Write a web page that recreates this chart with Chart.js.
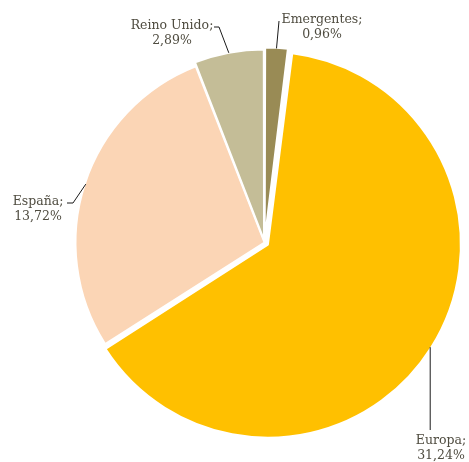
<!DOCTYPE html>
<html>
<head>
<meta charset="utf-8">
<script src="https://cdn.jsdelivr.net/npm/chart.js@4/dist/chart.umd.min.js"></script>
<style>
html,body{margin:0;padding:0;background:#fff;}
#wrap{width:469px;height:462px;position:relative;}
</style>
</head>
<body>
<div id="wrap"><canvas id="c" width="469" height="462"></canvas></div>
<script>
// Data
const categories = ['Emergentes', 'Europa', 'España', 'Reino Unido'];
const values = [0.96, 31.24, 13.72, 2.89];
const valueLabels = ['0,96%', '31,24%', '13,72%', '2,89%'];

// Styles
const colors = ['#998B55', '#FFC000', '#FBD5B5', '#C4BD97'];
const explode = [13, 16, 0, 10];
// Chart.js v4 arcs: translate by offset/4 and grow radius by offset/4
const EDGE_FACTOR = 0.5;
// label layout: text centre x, first baseline y, leader path
const labelLayout = [
  {cx: 322, by: 23, leader: [[279, 21]]},
  {cx: 441, by: 444, leader: [['edgeX', 430]]},
  {cx: 38, by: 205, leader: [[73, 203], [67, 203]]},
  {cx: 172, by: 29, leader: [[219, 27], [214, 27]]}
];

const labelPlugin = {
  id: 'pieLabels',
  afterDatasetsDraw(chart) {
    const ctx = chart.ctx;
    const meta = chart.getDatasetMeta(0);
    ctx.save();
    meta.data.forEach((el, i) => {
      const {x, y, startAngle, endAngle, outerRadius} = el.getProps(['x','y','startAngle','endAngle','outerRadius'], true);
      const mid = (startAngle + endAngle) / 2;
      const off = (el.options.offset || 0) * EDGE_FACTOR;
      const ex = x + Math.cos(mid) * (outerRadius + off - 1);
      const ey = y + Math.sin(mid) * (outerRadius + off - 1);
      const L = labelLayout[i];
      ctx.strokeStyle = '#1a1a1a';
      ctx.lineWidth = 1;
      ctx.beginPath();
      ctx.moveTo(ex, ey);
      L.leader.forEach(p => {
        const px = p[0] === 'edgeX' ? ex : p[0];
        ctx.lineTo(px, p[1]);
      });
      ctx.stroke();
      ctx.fillStyle = '#4f4c40';
      ctx.font = '12.5px "DejaVu Serif"';
      ctx.textAlign = 'center';
      ctx.textBaseline = 'alphabetic';
      ctx.fillText(categories[i] + ';', L.cx, L.by);
      ctx.fillText(valueLabels[i], L.cx, L.by + 15);
    });
    ctx.restore();
  }
};

new Chart(document.getElementById('c'), {
  type: 'pie',
  data: {
    labels: categories,
    datasets: [{
      data: values,
      backgroundColor: colors,
      borderColor: '#ffffff',
      borderWidth: 2,
      offset: explode,
      hoverOffset: 0
    }]
  },
  options: {
    responsive: false,
    animation: false,
    radius: 189,
    layout: {padding: {left: 60, right: 0, top: 23, bottom: 0}},
    plugins: {legend: {display: false}, tooltip: {enabled: false}}
  },
  plugins: [labelPlugin]
});
</script>
</body>
</html>
